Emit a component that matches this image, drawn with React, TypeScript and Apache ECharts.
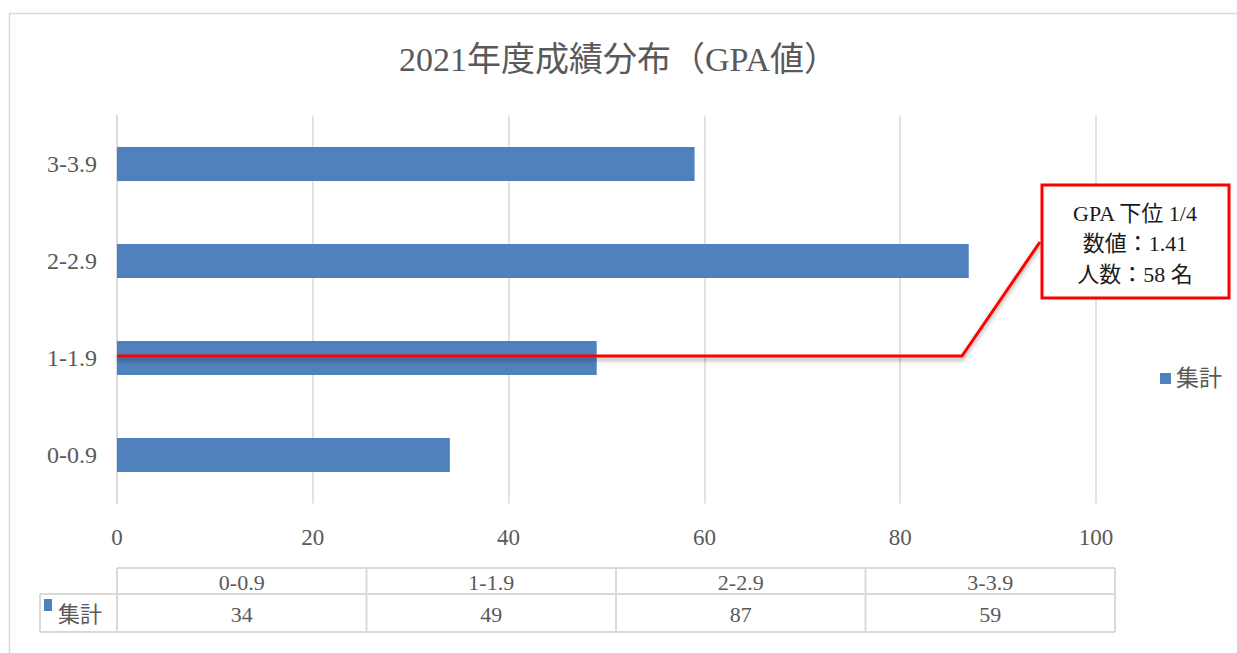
import React, { useEffect, useRef } from "react";
import * as echarts from "echarts";

const categories = ["0-0.9", "1-1.9", "2-2.9", "3-3.9"];
const values = [34, 49, 87, 59];
const seriesName = "集計";
const xTicks = [0, 20, 40, 60, 80, 100];
const titleText = "2021年度成績分布（GPA値）";
const noteLines = ["GPA 下位 1/4", "数値：1.41", "人数：58 名"];

const FONT = "'Liberation Serif', 'Noto Sans CJK JP', serif";
const GREY = "#595959";
const LINE = "#d9d9d9";
const BLUE = "#4f81bd";

export default function App() {
  const ref = useRef<HTMLDivElement>(null);
  useEffect(() => {
    if (!ref.current) return;
    const chart = echarts.init(ref.current, undefined, { renderer: "svg" });

    // data table geometry
    const tLeft = 117;
    const tRight = 1115;
    const tTop = 568;
    const tMid = 594;
    const tBot = 632;
    const keyLeft = 40;
    const colW = (tRight - tLeft) / categories.length;
    const tableEls: any[] = [];
    const ls = { stroke: LINE, lineWidth: 2 };
    tableEls.push({ type: "line", shape: { x1: tLeft, y1: tTop, x2: tRight, y2: tTop }, style: ls });
    tableEls.push({ type: "line", shape: { x1: keyLeft, y1: tMid, x2: tRight, y2: tMid }, style: ls });
    tableEls.push({ type: "line", shape: { x1: keyLeft, y1: tBot, x2: tRight, y2: tBot }, style: ls });
    tableEls.push({ type: "line", shape: { x1: keyLeft, y1: tMid, x2: keyLeft, y2: tBot }, style: ls });
    for (let i = 0; i <= categories.length; i++) {
      const x = tLeft + i * colW;
      tableEls.push({ type: "line", shape: { x1: x, y1: tTop, x2: x, y2: tBot }, style: ls });
    }
    categories.forEach((c, i) => {
      const cx = tLeft + (i + 0.5) * colW;
      tableEls.push({
        type: "text",
        x: cx,
        y: (tTop + tMid) / 2 + 1,
        style: { text: c, fill: GREY, font: `22px ${FONT}`, align: "center", verticalAlign: "middle" },
      });
      tableEls.push({
        type: "text",
        x: cx,
        y: (tMid + tBot) / 2 + 1,
        style: { text: String(values[i]), fill: GREY, font: `22px ${FONT}`, align: "center", verticalAlign: "middle" },
      });
    });
    tableEls.push({ type: "rect", shape: { x: 44, y: 599, width: 8, height: 12 }, style: { fill: BLUE } });
    tableEls.push({
      type: "text",
      x: 58,
      y: (tMid + tBot) / 2 + 1,
      style: { text: seriesName, fill: GREY, font: `22px ${FONT}`, align: "left", verticalAlign: "middle" },
    });

    const noteEls: any[] = [
      {
        type: "polyline",
        z: 100,
        shape: { points: [[117, 356], [962, 356], [1040, 242]] },
        style: {
          stroke: "#ff0000",
          lineWidth: 3,
          fill: null,
          shadowBlur: 4,
          shadowOffsetY: 3,
          shadowColor: "rgba(0,0,0,0.35)",
        },
      },
      {
        type: "rect",
        z: 100,
        shape: { x: 1042, y: 185, width: 187, height: 113 },
        style: { fill: "#ffffff", stroke: "#ff0000", lineWidth: 3 },
      },
      ...noteLines.map((t, i) => ({
        type: "text",
        z: 101,
        x: 1135,
        y: 213 + i * 30.5,
        style: { text: t, fill: "#1a1a1a", font: `22px ${FONT}`, align: "center", verticalAlign: "middle" },
      })),
    ];

    chart.setOption({
      animation: false,
      backgroundColor: "#ffffff",
      title: {
        text: titleText,
        left: "center",
        top: 37,
        textStyle: { color: GREY, fontSize: 34, fontWeight: "normal", fontFamily: FONT },
      },
      legend: {
        data: [seriesName],
        left: 1155,
        top: 362,
        icon: "rect",
        itemWidth: 11,
        itemHeight: 11,
        itemGap: 4,
        textStyle: { color: GREY, fontSize: 23, fontFamily: FONT },
      },
      grid: { left: 117, right: 141, top: 115.5, bottom: 149.5, containLabel: false },
      xAxis: {
        type: "value",
        min: xTicks[0],
        max: xTicks[xTicks.length - 1],
        interval: xTicks[1] - xTicks[0],
        axisLine: { show: false },
        axisTick: { show: false },
        splitLine: { show: true, lineStyle: { color: LINE, width: 1.5 } },
        axisLabel: { color: GREY, fontSize: 23, fontFamily: FONT, margin: 22 },
      },
      yAxis: {
        type: "category",
        data: categories,
        axisLine: { show: true, lineStyle: { color: LINE, width: 1.5 } },
        axisTick: { show: false },
        axisLabel: { color: GREY, fontSize: 24, fontFamily: FONT, margin: 20 },
      },
      series: [
        {
          type: "bar",
          name: seriesName,
          data: values,
          barCategoryGap: "65%",
          itemStyle: { color: BLUE },
        },
      ],
      graphic: [
        {
          type: "rect",
          shape: { x: 9.5, y: 13.5, width: 1300, height: 700 },
          style: { fill: null, stroke: LINE, lineWidth: 1.5 },
          silent: true,
        },
        ...tableEls,
        ...noteEls,
      ],
    });
    return () => chart.dispose();
  }, []);
  return (
    <div
      ref={ref}
      style={{ position: "absolute", left: 0, top: 0, width: 1237, height: 653, background: "#fff" }}
    />
  );
}
